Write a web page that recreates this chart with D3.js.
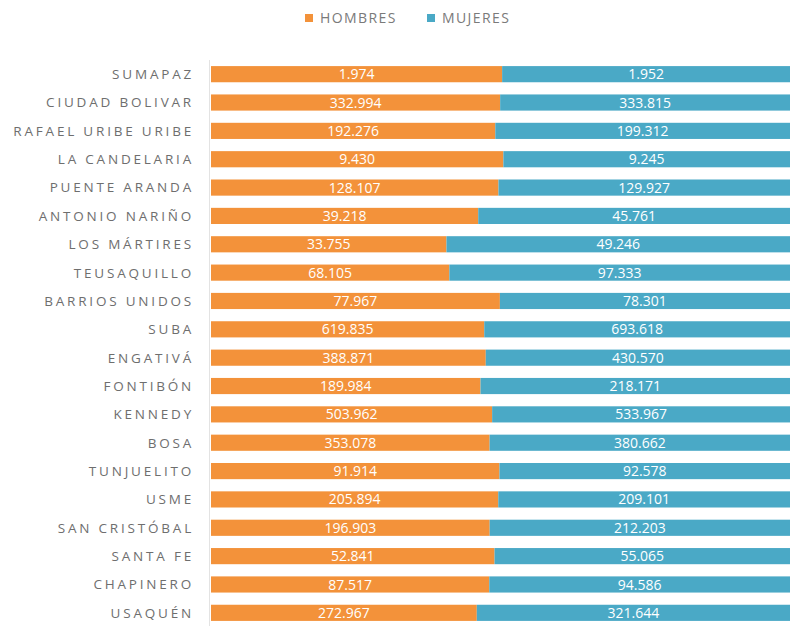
<!DOCTYPE html>
<html>
<head>
<meta charset="utf-8">
<script src="https://cdn.jsdelivr.net/npm/d3@7/dist/d3.min.js"></script>
<style>
  html, body { margin: 0; padding: 0; background: #ffffff; }
  svg { display: block; }
</style>
</head>
<body>
<svg id="chart" width="790" height="626"></svg>
<script>
// Población por localidad de Bogotá, según sexo (barras 100% apiladas)
const localidades = [
  "SUMAPAZ", "CIUDAD BOLIVAR", "RAFAEL URIBE URIBE", "LA CANDELARIA",
  "PUENTE ARANDA", "ANTONIO NARIÑO", "LOS MÁRTIRES", "TEUSAQUILLO",
  "BARRIOS UNIDOS", "SUBA", "ENGATIVÁ", "FONTIBÓN", "KENNEDY", "BOSA",
  "TUNJUELITO", "USME", "SAN CRISTÓBAL", "SANTA FE", "CHAPINERO", "USAQUÉN"
];
const hombres = [
  1974, 332994, 192276, 9430, 128107, 39218, 33755, 68105, 77967, 619835,
  388871, 189984, 503962, 353078, 91914, 205894, 196903, 52841, 87517, 272967
];
const mujeres = [
  1952, 333815, 199312, 9245, 129927, 45761, 49246, 97333, 78301, 693618,
  430570, 218171, 533967, 380662, 92578, 209101, 212203, 55065, 94586, 321644
];
const seriesNames = ["HOMBRES", "MUJERES"];
const seriesColors = ["#f3923a", "#4aa9c6"];

const svg = d3.select("#chart");
const font = "'Open Sans', 'Noto Sans', sans-serif";

const rows = localidades.map((name, i) => ({ name, HOMBRES: hombres[i], MUJERES: mujeres[i] }));

const stack = d3.stack().keys(seriesNames).offset(d3.stackOffsetExpand);
const layers = stack(rows);

const x = d3.scaleLinear().domain([0, 1]).range([211, 790]);
const y = d3.scaleBand().domain(localidades).range([60, 627]).paddingInner(0.43).paddingOuter(0.215);
const color = d3.scaleOrdinal().domain(seriesNames).range(seriesColors);

// Vertical base line of the plot
svg.append("line")
  .attr("x1", 209.5).attr("x2", 209.5)
  .attr("y1", 60).attr("y2", 627)
  .attr("stroke", "#e3e3e3").attr("stroke-width", 1);

// Bars
const layerG = svg.append("g").selectAll("g").data(layers).join("g")
  .attr("fill", d => color(d.key));

layerG.selectAll("rect").data(d => d.map(v => ({ v, key: d.key }))).join("rect")
  .attr("x", d => x(d.v[0]))
  .attr("y", d => y(d.v.data.name))
  .attr("width", d => x(d.v[1]) - x(d.v[0]))
  .attr("height", y.bandwidth());

// Value labels centred in each segment
const fmt = d3.formatLocale({ decimal: ",", thousands: ".", grouping: [3], currency: ["$", ""] }).format(",d");
layerG.selectAll("text").data(d => d.map(v => ({ v, key: d.key }))).join("text")
  .attr("x", d => (x(d.v[0]) + x(d.v[1])) / 2)
  .attr("y", d => y(d.v.data.name) + y.bandwidth() / 2)
  .attr("dy", "0.36em")
  .attr("text-anchor", "middle")
  .attr("fill", "#ffffff")
  .attr("font-family", font)
  .attr("font-size", "14px")
  .text(d => fmt(d.v.data[d.key]));

// Category axis
const yAxis = d3.axisLeft(y).tickSize(0).tickPadding(0);
const axisG = svg.append("g").attr("transform", "translate(194,0)").call(yAxis);
axisG.select(".domain").remove();
axisG.selectAll("text")
  .attr("font-family", font)
  .attr("font-size", "13.5px")
  .attr("fill", "#6e6e6e")
  .attr("letter-spacing", "2.8px")
  .attr("dy", "0.36em");

// Legend
const legendX = [305, 427];
const legend = svg.append("g").selectAll("g").data(seriesNames).join("g")
  .attr("transform", (d, i) => `translate(${legendX[i]},18)`);
legend.append("rect")
  .attr("x", 0).attr("y", -4).attr("width", 8).attr("height", 8)
  .attr("fill", d => color(d));
legend.append("text")
  .attr("x", 15).attr("y", 0).attr("dy", "0.36em")
  .attr("font-family", font)
  .attr("font-size", "14px")
  .attr("letter-spacing", "1.4px")
  .attr("fill", "#7a7a7a")
  .text(d => d);
</script>
</body>
</html>
